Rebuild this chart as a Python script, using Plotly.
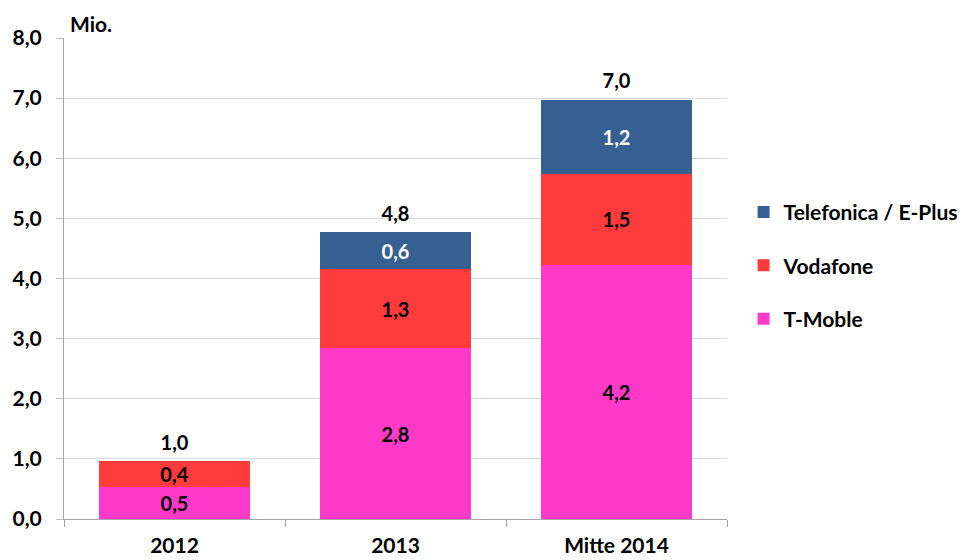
import plotly.graph_objects as go

categories = ["2012", "2013", "Mitte 2014"]
t_mobile = [0.54, 2.84, 4.23]
vodafone = [0.42, 1.31, 1.51]
telefonica = [None, 0.62, 1.23]
totals = [0.96, 4.77, 6.97]
y_ticks = [0, 1, 2, 3, 4, 5, 6, 7, 8]

FONT = "Lato, 'Open Sans', sans-serif"
FS = 20

fig = go.Figure()
series = [
    ("T-Moble", t_mobile, "#FF3AC8", "black", 3),
    ("Vodafone", vodafone, "#FF3B3B", "black", 2),
    ("Telefonica / E-Plus", telefonica, "#376092", "white", 1),
]
for name, vals, col, tcol, rank in series:
    fig.add_trace(go.Bar(
        x=categories, y=vals, name=name, marker_color=col,
        marker_line_width=0, legendrank=rank,
        texttemplate="%{y:.1f}", textposition="inside", insidetextanchor="middle",
        textangle=0, constraintext="none",
        textfont=dict(color=tcol, size=FS, family=FONT, weight="bold"),
        legendgroup=name,
    ))

fig.add_trace(go.Scatter(
    x=categories, y=totals, mode="markers+text", texttemplate="%{y:.1f}",
    textposition="top center", showlegend=False, cliponaxis=False,
    marker=dict(size=9, opacity=0),
    textfont=dict(color="black", size=FS, family=FONT, weight="bold"),
))

fig.update_layout(
    barmode="stack", bargap=0.32, separators=",.",
    width=972, height=560, plot_bgcolor="white", paper_bgcolor="white",
    margin=dict(l=56, r=253, t=30, b=49, autoexpand=False),
    font=dict(family=FONT, color="black", size=FS),
    legend=dict(x=1.025, y=0.68, xanchor="left", yanchor="top",
                tracegroupgap=23,
                font=dict(size=21, family=FONT, weight="bold"),
                itemwidth=30),
    showlegend=True,
)
fig.update_yaxes(range=[0, 8], tickvals=y_ticks, tickformat=".1f",
                 showgrid=True, gridcolor="#D9D9D9", gridwidth=1,
                 showline=True, linecolor="#A6A6A6", linewidth=1,
                 ticks="outside", ticklen=7, tickcolor="#BFBFBF",
                 ticklabelstandoff=10,
                 tickfont=dict(size=21, family=FONT, weight="bold"),
                 zeroline=False, automargin=False)
fig.update_xaxes(showline=True, linecolor="#A6A6A6", linewidth=1,
                 ticks="outside", tickson="boundaries", ticklen=7, tickcolor="#A6A6A6",
                 ticklabelstandoff=8,
                 tickfont=dict(size=21, family=FONT, weight="bold"),
                 automargin=False)

fig.add_annotation(text="<b>Mio.</b>", xref="paper", yref="paper", x=0.006, y=1.0,
                   xanchor="left", yanchor="bottom", showarrow=False,
                   font=dict(size=21, family=FONT), yshift=0)

fig.write_html("out.html")
